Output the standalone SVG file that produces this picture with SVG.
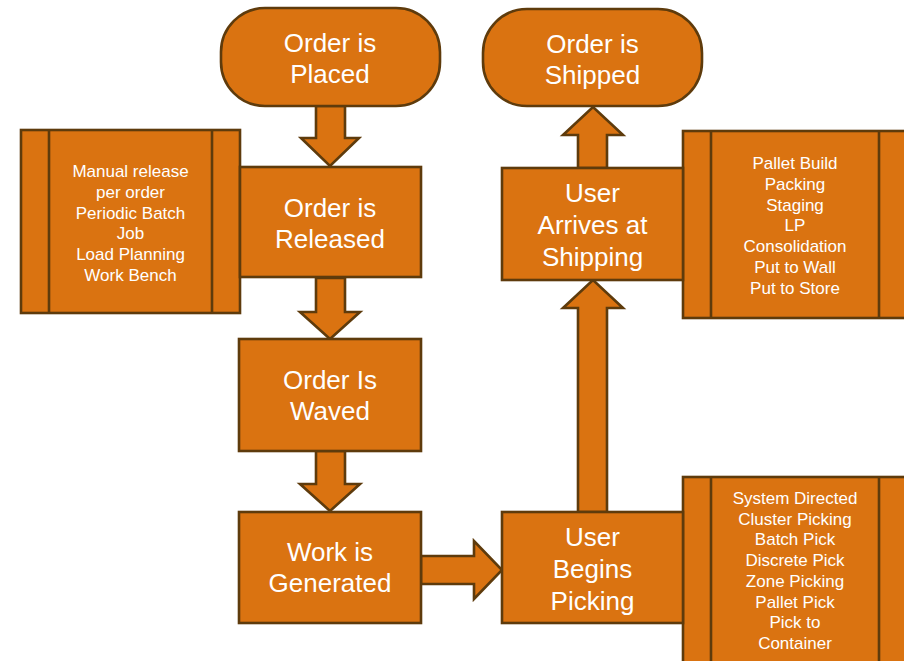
<svg xmlns="http://www.w3.org/2000/svg" width="904" height="661" viewBox="0 0 904 661">
<style>
.s{fill:#DA7311;stroke:#5E3B0C;stroke-width:2.6}
.l{stroke:#5E3B0C;stroke-width:2.6;fill:none}
.t{font-family:"Liberation Sans",Arial,sans-serif;font-size:26px;fill:#FFFFFF;text-anchor:middle}
.m{font-family:"Liberation Sans",Arial,sans-serif;font-size:17px;fill:#FFFFFF;text-anchor:middle}
</style>
<rect width="904" height="661" fill="#FFFFFF"/>
<g id="side-release">
<rect class="s" x="21" y="130" width="219" height="183"/>
<line class="l" x1="49" y1="130" x2="49" y2="313"/>
<line class="l" x1="212" y1="130" x2="212" y2="313"/>
<text class="m" x="130.5" y="177">Manual release</text>
<text class="m" x="130.5" y="198">per order</text>
<text class="m" x="130.5" y="219">Periodic Batch</text>
<text class="m" x="130.5" y="239">Job</text>
<text class="m" x="130.5" y="260">Load Planning</text>
<text class="m" x="130.5" y="281">Work Bench</text>
</g>
<g id="side-shipping">
<rect class="s" x="683" y="131" width="226" height="187"/>
<line class="l" x1="711" y1="131" x2="711" y2="318"/>
<line class="l" x1="879" y1="131" x2="879" y2="318"/>
<text class="m" x="795" y="169">Pallet Build</text>
<text class="m" x="795" y="190">Packing</text>
<text class="m" x="795" y="211">Staging</text>
<text class="m" x="795" y="231">LP</text>
<text class="m" x="795" y="252">Consolidation</text>
<text class="m" x="795" y="273">Put to Wall</text>
<text class="m" x="795" y="294">Put to Store</text>
</g>
<g id="side-picking">
<rect class="s" x="683" y="477" width="226" height="190"/>
<line class="l" x1="711" y1="477" x2="711" y2="667"/>
<line class="l" x1="879" y1="477" x2="879" y2="667"/>
<text class="m" x="795" y="504">System Directed</text>
<text class="m" x="795" y="525">Cluster Picking</text>
<text class="m" x="795" y="545">Batch Pick</text>
<text class="m" x="795" y="566">Discrete Pick</text>
<text class="m" x="795" y="587">Zone Picking</text>
<text class="m" x="795" y="608">Pallet Pick</text>
<text class="m" x="795" y="628">Pick to</text>
<text class="m" x="795" y="649">Container</text>
</g>
<g id="connectors">
<polygon class="s" points="316,106 345,106 345,138 359,138 330,166 301,138 316,138"/>
<polygon class="s" points="316,278 345,278 345,312 360,312 330,339 300,312 316,312"/>
<polygon class="s" points="316,451 345,451 345,484 360,484 330,511 300,484 316,484"/>
<polygon class="s" points="421,556 474,556 474,541 502,570 474,599 474,584 421,584"/>
<polygon class="s" points="578,512 578,308 563,308 593,280 623,308 607,308 607,512"/>
<polygon class="s" points="578,168 578,135 563,135 593,107 623,135 607,135 607,168"/>
</g>
<g id="placed">
<rect class="s" x="221" y="8" width="219" height="98" rx="44" ry="44"/>
<text class="t" x="330" y="52">Order is</text>
<text class="t" x="330" y="83">Placed</text>
</g>
<g id="shipped">
<rect class="s" x="483" y="9" width="219" height="97" rx="44" ry="44"/>
<text class="t" x="592.5" y="53">Order is</text>
<text class="t" x="592.5" y="84">Shipped</text>
</g>
<g id="released">
<rect class="s" x="240" y="167" width="181" height="110"/>
<text class="t" x="330" y="217">Order is</text>
<text class="t" x="330" y="248">Released</text>
</g>
<g id="waved">
<rect class="s" x="239" y="339" width="182" height="112"/>
<text class="t" x="330" y="389">Order Is</text>
<text class="t" x="330" y="420">Waved</text>
</g>
<g id="generated">
<rect class="s" x="239" y="512" width="182" height="111"/>
<text class="t" x="330" y="561">Work is</text>
<text class="t" x="330" y="592">Generated</text>
</g>
<g id="picking">
<rect class="s" x="502" y="512" width="181" height="111"/>
<text class="t" x="592.5" y="546">User</text>
<text class="t" x="592.5" y="578">Begins</text>
<text class="t" x="592.5" y="610">Picking</text>
</g>
<g id="shipping">
<rect class="s" x="502" y="168" width="181" height="112"/>
<text class="t" x="592.5" y="202">User</text>
<text class="t" x="592.5" y="234">Arrives at</text>
<text class="t" x="592.5" y="266">Shipping</text>
</g>
</svg>
